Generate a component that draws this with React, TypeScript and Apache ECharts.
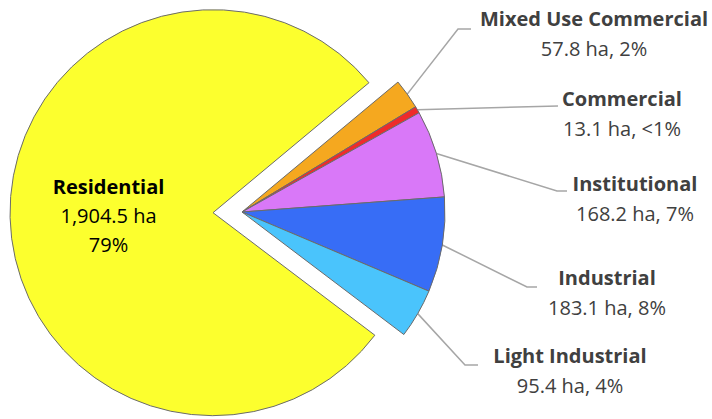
import React, { useEffect, useRef } from "react";
import * as echarts from "echarts";

// ---- data ----
const categories = [
  "Mixed Use Commercial",
  "Commercial",
  "Institutional",
  "Industrial",
  "Light Industrial",
  "Residential",
];
const areasHa = [57.8, 13.1, 168.2, 183.1, 95.4, 1904.5];
const colors = ["#F5A81F", "#EE2B2B", "#D978F8", "#376DF6", "#4AC4FC", "#FCFF2E"];

// ---- layout (label anchor = centre of the text block, line elbow and end) ----
const labelAnchors: Record<string, { x: number; y: number; elbow?: [number, number]; end?: [number, number] }> = {
  "Mixed Use Commercial": { x: 594, y: 33, elbow: [458, 29], end: [471, 29] },
  Commercial: { x: 622, y: 113, end: [558, 106] },
  Institutional: { x: 635, y: 198, elbow: [557, 191], end: [567, 191] },
  Industrial: { x: 607, y: 292, elbow: [527, 287], end: [537, 287] },
  "Light Industrial": { x: 570, y: 370, elbow: [465, 365], end: [478, 365] },
  Residential: { x: 140, y: 218 },
};

const FONT = "'Open Sans', Lato, sans-serif";
const FS = 20;

export default function App() {
  const ref = useRef<HTMLDivElement>(null);
  useEffect(() => {
    document.body.style.margin = "0";
    const chart = echarts.init(ref.current!, null, { renderer: "svg" });
    const total = areasHa.reduce((a, b) => a + b, 0);
    const fmtPct = (v: number) => {
      const p = (v / total) * 100;
      return p < 1 ? "<1%" : `${Math.round(p)}%`;
    };
    const fmtHa = (v: number) =>
      v.toLocaleString("en-US", { minimumFractionDigits: 1, maximumFractionDigits: 1 }) + " ha";

    const data = categories.map((name, i) => {
      const isRes = name === "Residential";
      return {
        name,
        value: areasHa[i],
        selected: isRes,
        itemStyle: { color: colors[i] },
        label: isRes
          ? {
              position: "inside",
              formatter: () => `{b|${name}}\n{n|${fmtHa(areasHa[i])}}\n{n|${fmtPct(areasHa[i])}}`,
              rich: {
                b: { fontFamily: FONT, fontWeight: "bold", fontSize: FS, lineHeight: 29, color: "#000" },
                n: { fontFamily: FONT, fontSize: FS, lineHeight: 29, color: "#000" },
              },
            }
          : undefined,
        labelLine: isRes ? { show: false } : undefined,
      };
    });

    chart.setOption({
      animation: false,
      series: [
        {
          type: "pie",
          center: [242, 212],
          radius: [0, 203],
          startAngle: 39.8,
          clockwise: true,
          selectedMode: "single",
          selectedOffset: 29,
          avoidLabelOverlap: false,
          emphasis: { disabled: true },
          itemStyle: { borderColor: "#6b6b6b", borderWidth: 1 },
          label: {
            show: true,
            position: "outside",
            formatter: (p: any) => `{b|${p.name}}\n{n|${fmtHa(p.value)}, ${fmtPct(p.value)}}`,
            rich: {
              b: { fontFamily: FONT, fontWeight: "bold", fontSize: FS, lineHeight: 30, color: "#404040" },
              n: { fontFamily: FONT, fontSize: FS, lineHeight: 30, color: "#404040" },
            },
          },
          labelLine: {
            show: true,
            lineStyle: { color: "#A6A6A6", width: 1.5 },
          },
          labelLayout: (params: any) => {
            const name = categories[params.dataIndex];
            const a = labelAnchors[name];
            const out: any = { x: a.x, y: a.y, align: "center", verticalAlign: "middle" };
            if (a.end && params.labelLinePoints) {
              const start = params.labelLinePoints[0];
              out.labelLinePoints = a.elbow ? [start, a.elbow, a.end] : [start, a.end, a.end];
            }
            return out;
          },
          data,
        },
      ],
    });
    return () => chart.dispose();
  }, []);
  return <div ref={ref} style={{ width: 712, height: 419 }} />;
}
